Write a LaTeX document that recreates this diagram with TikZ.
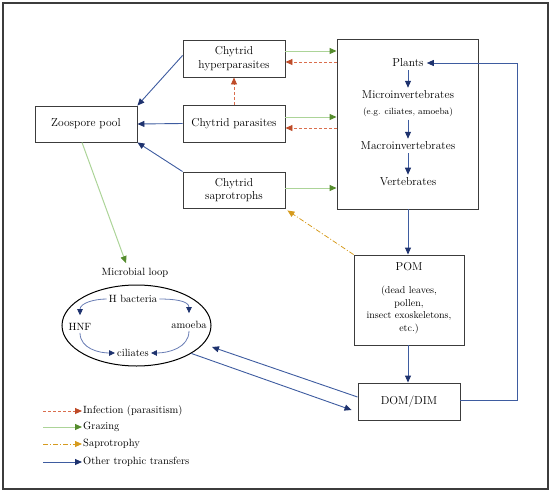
\documentclass[tikz,border=0pt]{standalone}
\usetikzlibrary{arrows.meta,shapes.geometric}
\definecolor{infred}{RGB}{218,110,78}
\definecolor{infredd}{RGB}{190,75,40}
\definecolor{grzl}{RGB}{172,212,152}
\definecolor{grzd}{RGB}{85,140,45}
\definecolor{sapc}{RGB}{214,155,30}
\definecolor{othl}{RGB}{62,92,160}
\definecolor{othi}{RGB}{105,125,180}
\definecolor{othd}{RGB}{30,50,110}
\definecolor{boxc}{RGB}{60,60,60}
\newcommand\mainsz{\fontsize{11.5}{13.5}\selectfont}
\newcommand\smallsz{\fontsize{10.5}{12.5}\selectfont}
\tikzset{
  box/.style={draw=boxc, line width=0.9pt, align=center, font=\mainsz, inner sep=2pt},
  txt/.style={font=\mainsz, inner sep=3pt},
  stxt/.style={font=\smallsz, inner sep=2pt},
  tip/.style={-{Triangle[length=7pt,width=6pt,color=#1]}},
  inf/.style={draw=infred, dash pattern=on 3pt off 2pt, line width=0.9pt, tip=infredd},
  grz/.style={draw=grzl, line width=1pt, tip=grzd},
  sapro/.style={draw=sapc, dash pattern=on 5pt off 2pt on 1pt off 2pt, line width=0.8pt, tip=sapc},
  oth/.style={draw=othl, line width=0.9pt, tip=othd},
  othin/.style={draw=othi, line width=0.8pt, -{Triangle[length=6pt,width=5.5pt,color=othd]}},
}
\begin{document}
\begin{tikzpicture}[x=1pt,y=-1pt]
\useasboundingbox (0,0) rectangle (550,493);
\draw[boxc, line width=1.3pt] (3,3) rectangle (548,489);

% boxes
\node[box, minimum width=102pt, minimum height=36pt] (zoo) at (86,124) {Zoospore pool};
\node[box, minimum width=102pt, minimum height=37pt] (hyp) at (234,58.5) {Chytrid\\hyperparasites};
\node[box, minimum width=102pt, minimum height=37pt] (par) at (234,123.5) {Chytrid parasites};
\node[box, minimum width=102pt, minimum height=36pt] (sap) at (234,190) {Chytrid\\saprotrophs};
\node[box, minimum width=141pt, minimum height=170pt] (big) at (407.5,124) {};
\node[box, minimum width=110pt, minimum height=90pt] (pom) at (409,300) {};
\node[box, minimum width=102pt, minimum height=37pt] (dom) at (409,401.5) {DOM/DIM};

% big box contents
\node[txt] (plants) at (408,63) {Plants};
\node[txt] (micro) at (408,95) {Microinvertebrates};
\node[txt, font=\fontsize{9}{11}\selectfont] (eg) at (408,112) {(e.g. ciliates, amoeba)};
\node[txt] (macro) at (408,146) {Macroinvertebrates};
\node[txt] (vert) at (408,182) {Vertebrates};
\draw[oth] (plants) -- (micro);
\draw[oth] (eg) -- (macro);
\draw[oth] (macro) -- (vert);

% POM contents
\node[txt] (pomt) at (409,267) {POM};
\node[font=\fontsize{10}{12.5}\selectfont, align=center, inner sep=0pt] (pomd) at (409,310) {(dead leaves,\\pollen,\\insect exoskeletons,\\etc.)};

% microbial loop
\node[stxt] (mloop) at (135,273) {Microbial loop};
\node[ellipse, draw=black, line width=1pt, minimum width=149pt, minimum height=81pt] (ell) at (136.5,325.5) {};
\node[stxt] (hb) at (133,299) {H bacteria};
\node[stxt] (hnf) at (80,327) {HNF};
\node[stxt] (amo) at (189,325) {amoeba};
\node[stxt] (cil) at (133,353) {ciliates};
\draw[othin] (hb.west) to[out=180,in=90] ([yshift=6pt]hnf.north);
\draw[othin] (hb.east) to[out=0,in=90] ([yshift=6pt]amo.north);
\draw[othin] (hnf.south) to[out=-90,in=180] (cil.west);
\draw[othin] (amo.south) to[out=-90,in=0] (cil.east);

% chytrids to zoospore pool
\draw[oth] ([yshift=3pt]hyp.west) -- (zoo.north east);
\draw[oth] (par.west) -- (zoo.east);
\draw[oth] (sap.north west) -- (zoo.south east);

% grazing and infection
\draw[grz] ([yshift=7.5pt]hyp.east) -- ([yshift=7.5pt]big.west |- hyp.east);
\draw[inf] ([yshift=-3.5pt]big.west |- hyp.east) -- ([yshift=-3.5pt]hyp.east);
\draw[grz] ([yshift=6.5pt]par.east) -- ([yshift=6.5pt]big.west |- par.east);
\draw[inf] ([yshift=-4.5pt]big.west |- par.east) -- ([yshift=-4.5pt]par.east);
\draw[grz] ([yshift=2pt]sap.east) -- ([yshift=2pt]big.west |- sap.east);
\draw[inf] (par.north) -- (hyp.south);

% flows
\draw[oth] (big.south -| plants) -- (pom.north -| plants);
\draw[oth] (pom.south -| plants) -- (dom.north -| plants);
\coordinate (rc) at (517,400);
\draw[oth] ([yshift=1.5pt]dom.east) -- ([yshift=1.5pt]dom.east -| rc) -- (rc |- plants) -- (plants.east);
\draw[sapro] (pom.north west) -- ([shift={(2pt,-2pt)}]sap.south east);
\draw[grz] ([xshift=-4pt]zoo.south) -- ([xshift=-9pt,yshift=3pt]mloop.north);

% DOM <-> ciliates
\coordinate (ein) at (212,347);
\draw[oth] ([yshift=4.5pt]dom.west) -- (ein);
\draw[oth] (ell.-27) -- ([shift={(-6pt,-8.5pt)}]dom.west);

% legend
\coordinate (la1) at (43,411);
\coordinate (la2) at (43,427);
\coordinate (la3) at (43,444);
\coordinate (la4) at (43,462);
\node[stxt, anchor=west, inner sep=1pt] (lg1) at (82,411) {Infection (parasitism)};
\node[stxt, anchor=west, inner sep=1pt] (lg2) at (82,427) {Grazing};
\node[stxt, anchor=west, inner sep=1pt] (lg3) at (82,444) {Saprotrophy};
\node[stxt, anchor=west, inner sep=1pt] (lg4) at (82,462) {Other trophic transfers};
\draw[inf] (la1) -- (lg1.west);
\draw[grz] (la2) -- (lg2.west);
\draw[sapro] (la3) -- (lg3.west);
\draw[oth] (la4) -- (lg4.west);
\end{tikzpicture}
\end{document}
